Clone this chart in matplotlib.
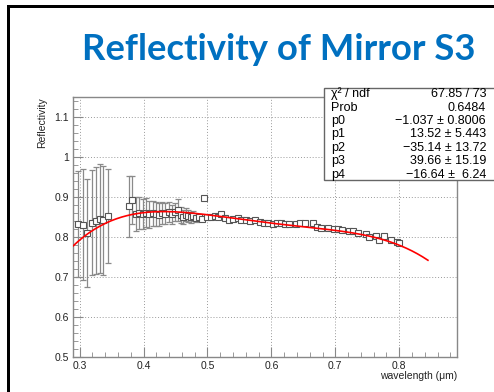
import matplotlib
matplotlib.use("Agg")
import matplotlib.pyplot as plt
import numpy as np
from matplotlib.patches import Rectangle
from matplotlib.ticker import MultipleLocator, FormatStrFormatter

# -- Measured reflectivity -------------------------------------------------
wavelength = [
    0.297, 0.305, 0.312, 0.319, 0.325, 0.331, 0.337, 0.344,
    0.377, 0.382, 0.388, 0.393, 0.399, 0.404, 0.409, 0.414, 0.419, 0.424,
    0.429, 0.434, 0.439, 0.444, 0.449, 0.454, 0.458, 0.462, 0.466, 0.470,
    0.474, 0.478, 0.482, 0.487, 0.491, 0.495, 0.500,
    0.505, 0.511, 0.516, 0.521, 0.527, 0.534, 0.540, 0.547, 0.553, 0.560,
    0.567, 0.575, 0.582, 0.589, 0.595, 0.602, 0.609, 0.615, 0.622, 0.628,
    0.638, 0.645, 0.652, 0.665, 0.672, 0.678, 0.688, 0.698, 0.705, 0.711,
    0.722, 0.728, 0.735, 0.748, 0.753, 0.763, 0.768, 0.777, 0.787, 0.797,
    0.800,
]
reflectivity = [
    0.833, 0.831, 0.810, 0.836, 0.841, 0.846, 0.842, 0.853,
    0.877, 0.892, 0.858, 0.860, 0.858, 0.861, 0.857, 0.859, 0.858, 0.856,
    0.860, 0.858, 0.862, 0.857, 0.863, 0.868, 0.855, 0.850, 0.856, 0.853,
    0.849, 0.852, 0.848, 0.850, 0.846, 0.898, 0.851,
    0.849, 0.853, 0.850, 0.858, 0.848, 0.843, 0.846, 0.848, 0.843, 0.843,
    0.840, 0.842, 0.838, 0.835, 0.834, 0.833, 0.834, 0.835, 0.832, 0.833,
    0.833, 0.834, 0.835, 0.835, 0.826, 0.823, 0.823, 0.820, 0.819, 0.818,
    0.814, 0.814, 0.810, 0.808, 0.800, 0.803, 0.793, 0.802, 0.792, 0.787,
    0.784,
]
refl_err = [
    0.133, 0.139, 0.135, 0.131, 0.134, 0.137, 0.136, 0.118,
    0.076, 0.060, 0.042, 0.040, 0.038, 0.036, 0.034, 0.032, 0.030, 0.028,
    0.027, 0.026, 0.025, 0.024, 0.023, 0.028, 0.020, 0.018, 0.016, 0.015,
    0.014, 0.012, 0.010, 0.008, 0.006, 0.000, 0.005,
] + [0.004] * 41

# pol4 fit result
fit_pars = [-1.037, 13.52, -35.14, 39.66, -16.64]
stat_rows = [
    ("χ² / ndf", "67.85 / 73"),
    ("Prob", "0.6484"),
    ("p0", "−1.037 ± 0.8006"),
    ("p1", "13.52 ± 5.443"),
    ("p2", "−35.14 ± 13.72"),
    ("p3", "39.66 ± 15.19"),
    ("p4", "−16.64 ±  6.24"),
]

W, H = 494, 392
plt.rcParams["font.family"] = ["Liberation Sans", "DejaVu Sans"]

fig = plt.figure(figsize=(W / 100, H / 100), dpi=100)


def fx(px):
    return px / W


def fy(py):
    return 1 - py / H


# slide frame lines
fig.add_artist(Rectangle((fx(7), 0), fx(3), fy(5), transform=fig.transFigure,
                         facecolor="black", edgecolor="none"))
fig.add_artist(Rectangle((fx(7), fy(8)), 1 - fx(7), 3 / H, transform=fig.transFigure,
                         facecolor="black", edgecolor="none"))

fig.text(fx(279), fy(60), "Reflectivity of Mirror S3", color="#0070C0",
         fontsize=26.3, fontweight="bold", family="Lato",
         ha="center", va="baseline")

ax = fig.add_axes([fx(73), fy(357), fx(457) - fx(73), fy(97) - fy(357)])
ax.set_xlim(0.2895, 0.8905)
ax.set_ylim(0.5, 1.15)

ax.errorbar(wavelength, reflectivity, yerr=refl_err, fmt="none",
            ecolor="#8a8a8a", elinewidth=0.9, capsize=2, capthick=0.9, zorder=3)
ax.plot(wavelength, reflectivity, ls="none", marker="s", ms=4.6,
        mfc="white", mec="#555555", mew=0.8, zorder=4)

xf = np.linspace(0.29, 0.845, 200)
yf = np.polyval(fit_pars[::-1], xf)
ax.plot(xf, yf, color="red", lw=1.2, zorder=5)

ax.xaxis.set_major_locator(MultipleLocator(0.1))
ax.xaxis.set_minor_locator(MultipleLocator(0.02))
ax.yaxis.set_major_locator(MultipleLocator(0.1))
ax.yaxis.set_minor_locator(MultipleLocator(0.02))
ax.xaxis.set_major_formatter(FormatStrFormatter("%g"))
ax.yaxis.set_major_formatter(FormatStrFormatter("%g"))
ax.tick_params(which="both", direction="in", color="#888888", labelsize=7.5,
               labelcolor="#222222")
ax.tick_params(which="major", length=7, pad=3)
ax.tick_params(which="minor", length=3.5)
ax.grid(True, which="major", color="#9a9a9a", lw=0.7, ls=(0, (1, 2)))
for s in ax.spines.values():
    s.set_color("#888888")
    s.set_linewidth(1)

ax.set_xlabel("wavelength (μm)", fontsize=7.5, color="#222222", loc="right",
              labelpad=0)
ax.set_ylabel("Reflectivity", fontsize=7.5, color="#222222", loc="top",
              labelpad=5)

# fit statistics box
box = Rectangle((fx(324), fy(179.5)), 1, fy(88.5) - fy(179.5),
                transform=fig.transFigure, facecolor="white",
                edgecolor="#666666", lw=1, zorder=10)
fig.add_artist(box)
for i, (name, val) in enumerate(stat_rows):
    y = fy(97.3 + i * 13.4)
    fig.text(fx(331), y, name, fontsize=9, ha="left", va="baseline", zorder=11)
    fig.text(fx(486), y, val, fontsize=9, ha="right", va="baseline", zorder=11)

fig.savefig("out.png", dpi=100)
